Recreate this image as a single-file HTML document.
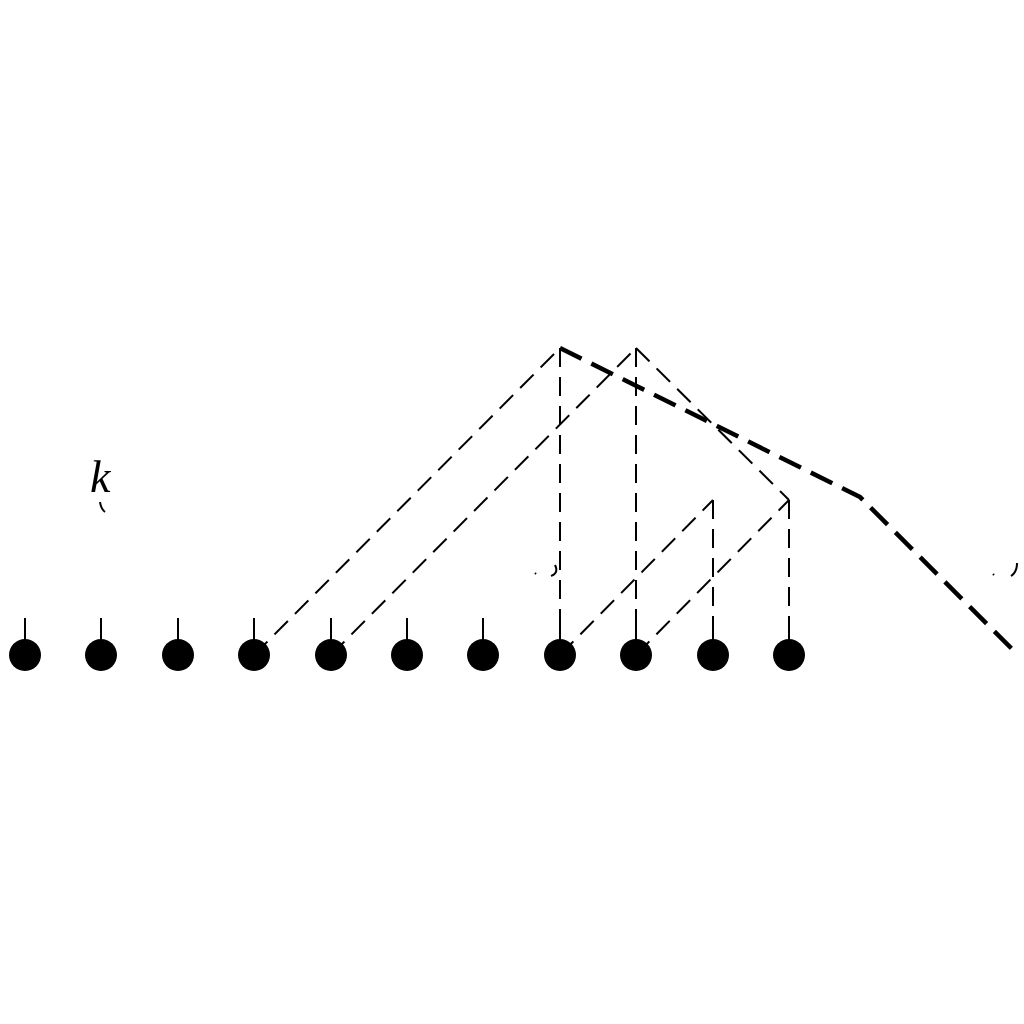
<!DOCTYPE html>
<html><head><meta charset="utf-8"><style>
html,body{margin:0;padding:0;background:#fff;width:1024px;height:1024px;overflow:hidden}
</style></head><body>
<svg width="1024" height="1024" viewBox="0 0 1024 1024">
<g id="thin" fill="none" stroke="#000" stroke-width="2" stroke-dasharray="19 10"></g>
<g id="thick" fill="none" stroke="#000" stroke-width="4.5" stroke-dasharray="24 11"></g>
<g id="nodes"></g>
<text x="90" y="492" font-family="'Liberation Serif', serif" font-style="italic" font-size="46">k</text>
<path d="M100,502 Q101,509 105,512" fill="none" stroke="#000" stroke-width="2"/>
<path d="M535,573 l1,1 M555,565 Q559,573 551,576" fill="none" stroke="#000" stroke-width="2"/>
<path d="M993,574 l1,1 M1017,563 Q1017,572 1011,576" fill="none" stroke="#000" stroke-width="2"/>
</svg>
<script>
const nodeX = [25,101,178,254,331,407,483,560,636,713,789];
const nodeY = 655;
const thinEdges = [[254,655,560,348],[331,655,636,348],[560,348,560,655],[636,348,636,655],[636,348,789,500],[789,500,789,655],[560,655,713,500],[713,500,713,655],[636,655,789,500]];
const thickPath = [[560,348],[860,497],[1018,655]];
const NS='http://www.w3.org/2000/svg';
const gN=document.getElementById('nodes');
nodeX.forEach((x,i)=>{
  const t=document.createElementNS(NS,'line');
  t.setAttribute('x1',x);t.setAttribute('x2',x);t.setAttribute('y1',618);t.setAttribute('y2',nodeY);
  t.setAttribute('stroke','#000');t.setAttribute('stroke-width','2');
  
  
  gN.appendChild(t);
  const c=document.createElementNS(NS,'circle');
  c.setAttribute('cx',x);c.setAttribute('cy',nodeY);c.setAttribute('r',16);
  
  
  gN.appendChild(c);
});
const gT=document.getElementById('thin');
thinEdges.forEach(e=>{
  const l=document.createElementNS(NS,'line');
  l.setAttribute('x1',e[0]);l.setAttribute('y1',e[1]);l.setAttribute('x2',e[2]);l.setAttribute('y2',e[3]);
  
  
  gT.appendChild(l);
});
const p=document.createElementNS(NS,'polyline');
p.setAttribute('points',thickPath.map(q=>q.join(',')).join(' '));


document.getElementById('thick').appendChild(p);
</script>
</body></html>
